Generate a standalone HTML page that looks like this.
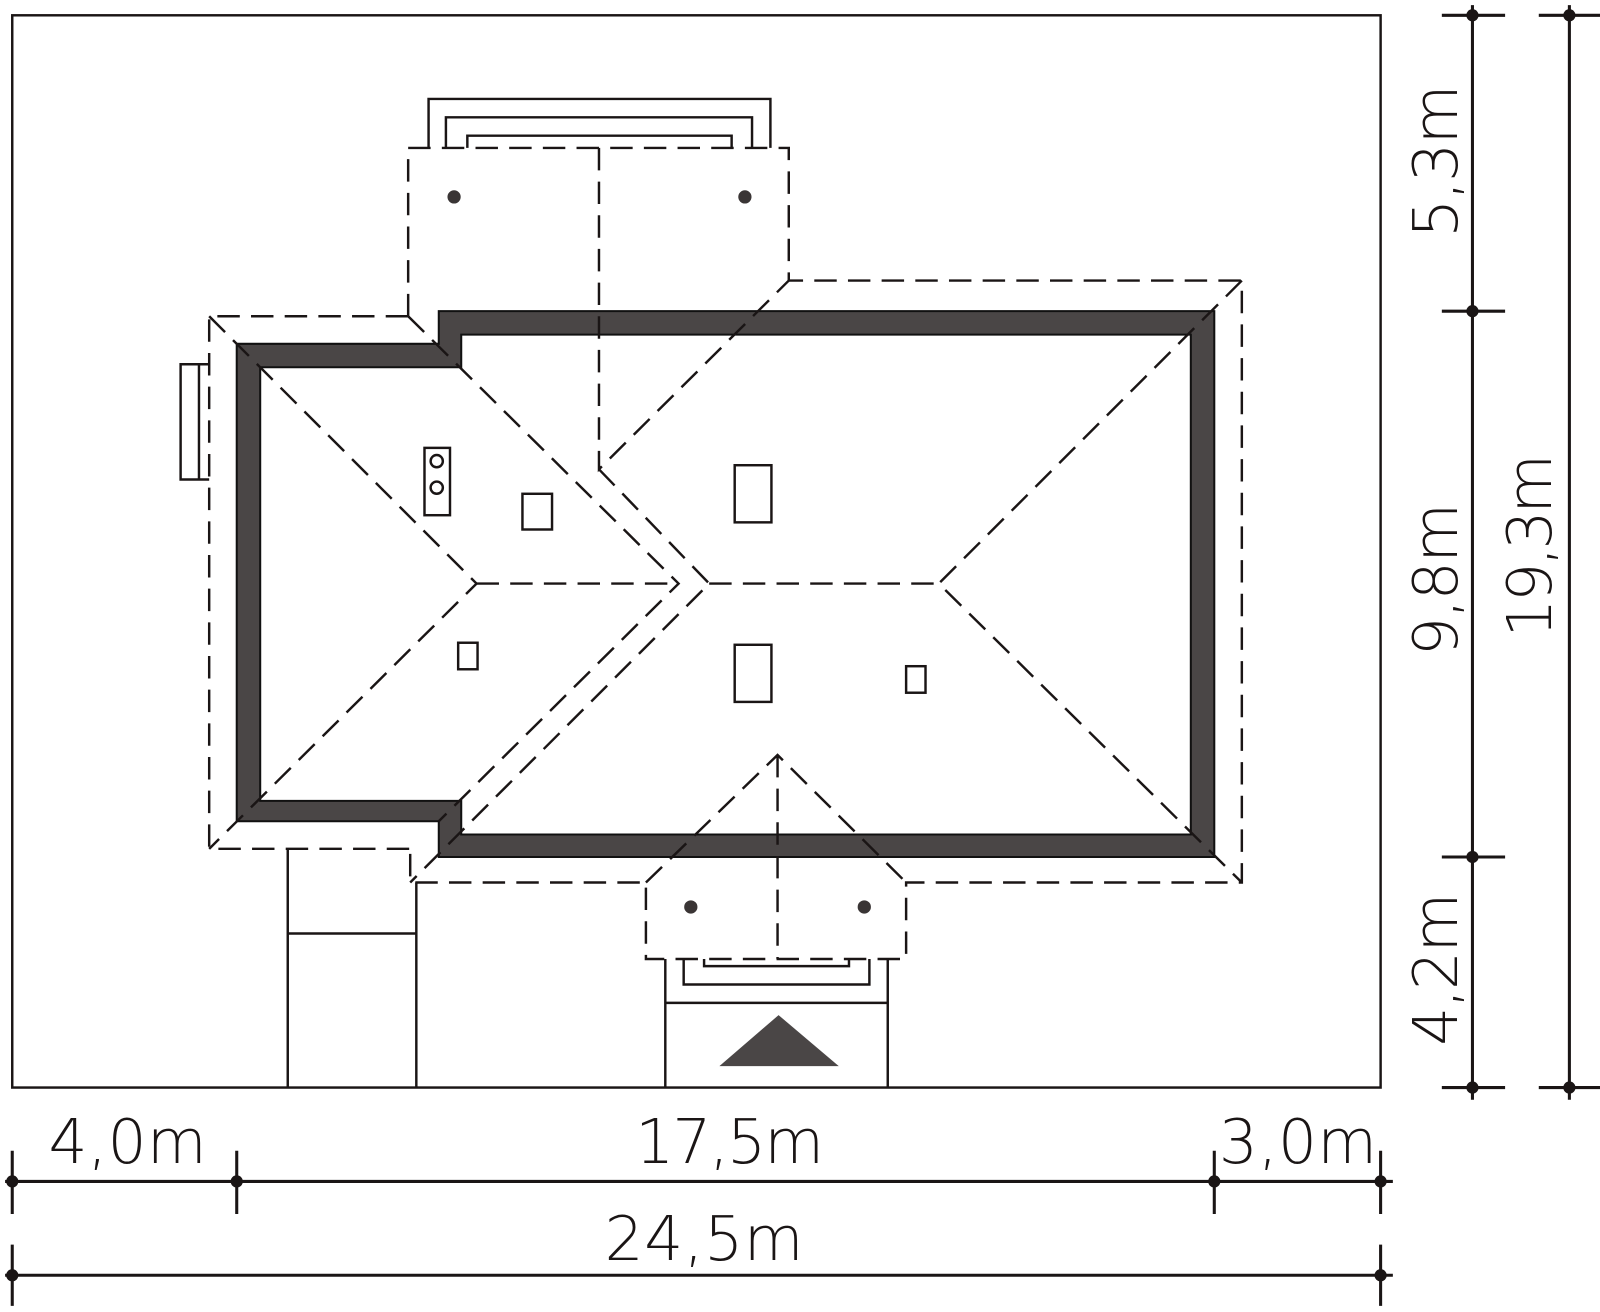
<!DOCTYPE html>
<html><head><style>html,body{margin:0;padding:0;background:#fff}svg{display:block}</style></head>
<body>
<svg width="1600" height="1312" viewBox="0 0 1568 1286" preserveAspectRatio="none" xmlns="http://www.w3.org/2000/svg">
<g fill="none" stroke="#1a1515" stroke-width="2.4">
<rect x="12" y="15" width="1341" height="1051"/>
<path d="M232,337 L430,337 L430,305 L1190,305 L1190,840 L430,840 L430,805 L232,805 Z M255,360 L452,360 L452,328 L1167,328 L1167,818 L452,818 L452,785 L255,785 Z" fill="#4a4646" fill-rule="evenodd" stroke="#111" stroke-width="2"/>
<g stroke-dasharray="22,11">
<path d="M400,310 L205,310 L205,832 L405,832"/>
<path d="M400,310 L400,145 L773,145 L773,275 L1217,275 L1217,865 L888,865 L888,940 L633,940 L633,865 L402,865 L402,832"/>
<path d="M587,145 L587,460 L773,275"/>
<path d="M1217,275 L920,572 L1217,865"/>
<path d="M695,572 L920,572"/>
<path d="M587,460 L695,572 L402,865"/>
<path d="M400,310 L665,572 L430,805"/>
<path d="M205,310 L467,572 L205,832"/>
<path d="M467,572 L665,572"/>
<path d="M633,865 L762,740 L888,865 M762,740 L762,940"/>
</g>
<path d="M420,145 L420,97 L755,97 L755,145 M437,145 L437,115 L737,115 L737,145 M458,145 L458,133 L717,133 L717,145"/>
<path d="M652,940 L652,1066 M870,940 L870,1066 M652,983 L870,983 M670,940 L670,965 L852,965 L852,940 M690,940 L690,947 L832,947 L832,940"/>
<path d="M282,832 L282,1066 M408,865 L408,1066 M282,915 L408,915"/>
<path d="M205,357 L177,357 L177,470 L205,470 M195,357 L195,470"/>
<rect x="416" y="439" width="25" height="66"/>
<circle cx="428" cy="452" r="6"/><circle cx="428" cy="478" r="6"/>
<rect x="512" y="484" width="29" height="35"/>
<rect x="720" y="456" width="36" height="56"/>
<rect x="720" y="632" width="36" height="56"/>
<rect x="449" y="630" width="19" height="26"/>
<rect x="888" y="653" width="19" height="26"/>
</g>
<g fill="#3a3535">
<circle cx="445" cy="193" r="6.5"/><circle cx="730" cy="193" r="6.5"/>
<circle cx="677" cy="889" r="6.5"/><circle cx="847" cy="889" r="6.5"/>
<polygon points="705,1045 763,995 822,1045" fill="#4a4646"/>
</g>
<g stroke="#1a1515" stroke-width="3" fill="none">
<path d="M1443,5 L1443,1078 M1538,5 L1538,1078"/>
<path d="M1413,15 L1475,15 M1413,305 L1475,305 M1413,840 L1475,840 M1413,1066 L1475,1066 M1508,15 L1570,15 M1508,1066 L1570,1066"/>
<path d="M5,1158 L1365,1158 M5,1250 L1365,1250"/>
<path d="M12,1128 L12,1190 M232,1128 L232,1190 M1190,1128 L1190,1190 M1353,1128 L1353,1190 M12,1220 L12,1280 M1353,1220 L1353,1280"/>
</g>
<g fill="#1a1515">
<circle cx="1443" cy="15" r="6"/><circle cx="1443" cy="305" r="6"/><circle cx="1443" cy="840" r="6"/><circle cx="1443" cy="1066" r="6"/>
<circle cx="1538" cy="15" r="6"/><circle cx="1538" cy="1066" r="6"/>
<circle cx="12" cy="1158" r="6"/><circle cx="232" cy="1158" r="6"/><circle cx="1190" cy="1158" r="6"/><circle cx="1353" cy="1158" r="6"/>
<circle cx="12" cy="1250" r="6"/><circle cx="1353" cy="1250" r="6"/>
</g>
<g font-family="DejaVu Sans, Liberation Sans, sans-serif" font-size="60" fill="#1a1515" text-anchor="middle" style="font-weight:200">
<text x="125" y="1140" textLength="155">4,0m</text>
<text x="715" y="1140" textLength="185">17,5m</text>
<text x="1272" y="1140" textLength="155">3,0m</text>
<text x="690" y="1235" textLength="195">24,5m</text>
<text transform="translate(1428,158) rotate(-90)" textLength="150">5,3m</text>
<text transform="translate(1428,568) rotate(-90)" textLength="150">9,8m</text>
<text transform="translate(1428,950) rotate(-90)" textLength="150">4,2m</text>
<text transform="translate(1520,535) rotate(-90)" textLength="180">19,3m</text>
</g>
</svg>
</body></html>
